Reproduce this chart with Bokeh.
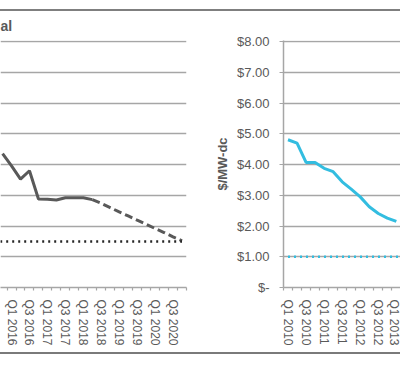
from bokeh.plotting import figure
from bokeh.models import Range1d, FixedTicker, NumeralTickFormatter, Div, Grid
from bokeh.layouts import row, column
from bokeh.embed import file_html
from bokeh.resources import INLINE

# ---------------- data ----------------
years = list(range(2010, 2021))
quarters = [f"Q{q} {y}" for y in years for q in range(1, 5)]

left_title = "al"
left_actual_q = ["Q4 2015", "Q1 2016", "Q2 2016", "Q3 2016", "Q4 2016", "Q1 2017",
                 "Q2 2017", "Q3 2017", "Q4 2017", "Q1 2018", "Q2 2018"]
left_actual = [4.36, 3.96, 3.53, 3.80, 2.88, 2.87, 2.85, 2.92, 2.92, 2.92, 2.86]
left_proj_q = ["Q2 2018", "Q3 2018", "Q4 2018", "Q1 2019", "Q2 2019", "Q3 2019",
               "Q4 2019", "Q1 2020", "Q2 2020", "Q3 2020", "Q4 2020"]
left_proj = [2.86, 2.74, 2.60, 2.46, 2.33, 2.19, 2.06, 1.92, 1.79, 1.65, 1.52]
target_q = ["Q1 2010", "Q4 2020"]
left_target = [1.5, 1.5]

right_actual_q = ["Q1 2010", "Q2 2010", "Q3 2010", "Q4 2010", "Q1 2011", "Q2 2011",
                  "Q3 2011", "Q4 2011", "Q1 2012", "Q2 2012", "Q3 2012", "Q4 2012", "Q1 2013"]
right_actual = [4.81, 4.70, 4.07, 4.07, 3.88, 3.77, 3.44, 3.20, 2.95, 2.63, 2.41, 2.26, 2.15]
right_target = [1.0, 1.0]

y_ticks = [0, 1, 2, 3, 4, 5, 6, 7, 8]
y_axis_label = "$/MW-dc"

# ---------------- style ----------------
GRAY = "#595959"
GRID = "#a6a6a6"
CYAN = "#33bde0"
FONT = "Liberation Sans"


def xpos(qs):
    return [quarters.index(q) + 0.5 for q in qs]


label_ticks = [i + 0.5 for i in range(0, len(quarters), 2)]
overrides = {i + 0.5: quarters[i] for i in range(0, len(quarters), 2)}
minor = list(range(len(quarters) + 1))


def style_xaxis(p):
    ax = p.xaxis[0]
    ax.ticker = FixedTicker(ticks=label_ticks, minor_ticks=minor)
    ax.major_label_overrides = overrides
    ax.major_label_orientation = "vertical"
    ax.major_tick_out = 0
    ax.major_tick_in = 0
    ax.minor_tick_out = 3
    ax.minor_tick_in = 0
    ax.minor_tick_line_color = GRID
    ax.minor_tick_line_width = 1.2
    ax.axis_line_color = GRID
    ax.axis_line_width = 1.5
    ax.major_label_standoff = 9
    ax.major_label_text_font = FONT
    ax.major_label_text_font_size = "12px"
    ax.major_label_text_color = GRAY
    p.xgrid.visible = False


def add_ygrid(p):
    p.center = [g for g in p.center if not (isinstance(g, Grid) and g.dimension == 1)]
    p.add_layout(Grid(dimension=1, ticker=FixedTicker(ticks=y_ticks),
                      grid_line_color=GRID, grid_line_width=1.5))


# ---------------- left panel ----------------
p1 = figure(width=200, height=341, x_range=Range1d(23.27, 44), y_range=Range1d(0, 8.04),
            output_backend="svg", toolbar_location=None, y_axis_location=None,
            min_border_left=0, min_border_right=14, min_border_top=29, min_border_bottom=65)
p1.outline_line_color = None
p1.title.text = left_title
p1.title.align = "left"
p1.title.vertical_align = "top"
p1.title.offset = 0
p1.title.standoff = 10
p1.title.text_font = FONT
p1.title.text_font_size = "14px"
p1.title.text_font_style = "bold"
p1.title.text_color = GRAY
style_xaxis(p1)
add_ygrid(p1)
p1.line(xpos(left_actual_q), left_actual, color=GRAY, line_width=3)
p1.line(xpos(left_proj_q), left_proj, color=GRAY, line_width=3, line_dash="8 4")
p1.line(xpos(target_q), left_target, color="#262626", line_width=2.5, line_dash="2 4")

# ---------------- right panel ----------------
p2 = figure(width=200, height=341, x_range=Range1d(0, 12.96), y_range=Range1d(0, 8.04),
            output_backend="svg", toolbar_location=None,
            min_border_left=83, min_border_right=0, min_border_top=29, min_border_bottom=65)
p2.outline_line_color = None
style_xaxis(p2)
add_ygrid(p2)
ya = p2.yaxis[0]
ya.ticker = FixedTicker(ticks=y_ticks)
ya.formatter = NumeralTickFormatter(format="$0.00")
ya.major_label_overrides = {0: "$-"}
ya.major_tick_out = 4
ya.major_tick_in = 0
ya.minor_tick_out = 0
ya.minor_tick_in = 0
ya.major_tick_line_color = GRID
ya.axis_line_color = GRID
ya.axis_line_width = 1.5
ya.major_label_standoff = 10
ya.major_label_text_font = FONT
ya.major_label_text_font_size = "13px"
ya.major_label_text_color = GRAY
ya.axis_label = y_axis_label
ya.axis_label_text_font = FONT
ya.axis_label_text_font_size = "13px"
ya.axis_label_text_font_style = "bold"
ya.axis_label_text_color = GRAY
ya.axis_label_standoff = 4
p2.line(xpos(right_actual_q), right_actual, color=CYAN, line_width=3)
p2.line(xpos(target_q), right_target, color=CYAN, line_width=2.5, line_dash="2 4")

top = Div(text="", width=400, height=2, margin=(9, 0, 0, 0), styles={"background-color": "#7f7f7f"})
bottom = Div(text="", width=400, height=2, margin=0, styles={"background-color": "#7a7a7a"})
layout = column(top, row(p1, p2), bottom)

open("out.html", "w").write(file_html(layout, INLINE))
